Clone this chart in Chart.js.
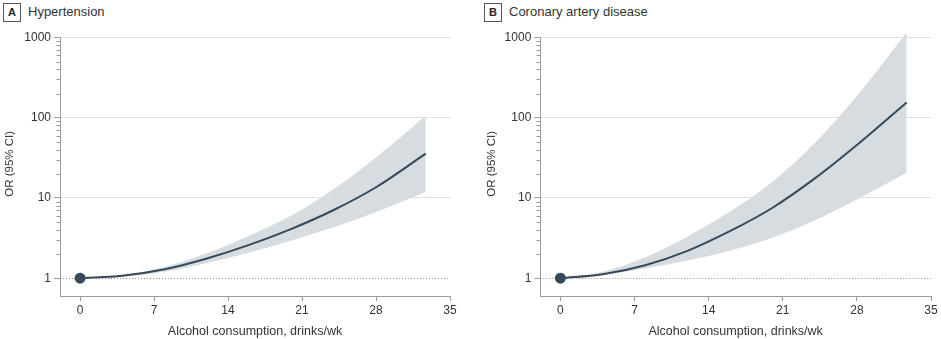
<!DOCTYPE html>
<html>
<head>
<meta charset="utf-8">
<script src="https://cdn.jsdelivr.net/npm/chart.js@4/dist/chart.umd.min.js"></script>
<style>
  body { margin: 0; background: #fff; }
  #wrap { position: relative; width: 941px; height: 339px; font-family: 'Liberation Sans', sans-serif; color: #333; }
  .panel { position: absolute; top: 0; height: 339px; }
  .tag { position: absolute; top: 3px; width: 16px; height: 17px; border: 1px solid #555; font-weight: bold; font-size: 11px; line-height: 17px; text-align: center; color: #222; }
  .name { position: absolute; top: 3px; font-size: 13px; line-height: 18px; color: #333; }
</style>
</head>
<body>
<div id="wrap">
  <div class="tag" style="left:3px">A</div>
  <div class="name" style="left:28px">Hypertension</div>
  <div class="tag" style="left:484px">B</div>
  <div class="name" style="left:509px">Coronary artery disease</div>
  <div class="panel" style="left:0;width:470px"><canvas id="htn" width="470" height="339"></canvas></div>
  <div class="panel" style="left:470px;width:471px"><canvas id="cad" width="471" height="339"></canvas></div>
</div>
<script>
// alcohol dose (drinks/wk) and odds ratios with 95% CI
const doses = [0, 4, 8, 12, 16, 20, 24, 28, 32.7]
const htnOR = [1, 1.07, 1.29, 1.76, 2.6, 4.12, 7.08, 13.6, 35.7]
const htnUpper = [1, 1.1, 1.38, 2.04, 3.39, 6.03, 12.9, 32, 106]
const htnLower = [1, 1.05, 1.2, 1.55, 2.09, 2.95, 4.3, 6.7, 11.9]
const cadOR = [1, 1.12, 1.45, 2.19, 3.85, 7.5, 17.4, 45.7, 155]
const cadUpper = [1, 1.2, 1.82, 3.31, 6.76, 15.8, 47.9, 186, 1160]
const cadLower = [1, 1.1, 1.32, 1.66, 2.2, 3.2, 5.25, 9.6, 20.6]
const xTicks = [0, 7, 14, 21, 28, 35]
const yTicks = [1, 10, 100, 1000]

const FONT = "'Liberation Sans', sans-serif"
const AXIS = "#9a9a9a"
const LINE = "#36495a"
const BAND = "#d6dce0"

const pts = (ys) => doses.map((d, i) => ({ x: d, y: ys[i] }))

// y axis line, minor log ticks and the dotted reference at OR = 1
const axisExtras = {
  id: "axisExtras",
  beforeDatasetsDraw(chart) {
    const { ctx, chartArea } = chart
    const py = chart.scales.y.getPixelForValue(1)
    ctx.save()
    ctx.strokeStyle = "#8c8c8c"
    ctx.lineWidth = 1
    ctx.setLineDash([1, 2])
    ctx.beginPath()
    ctx.moveTo(chartArea.left, Math.round(py) + 0.5)
    ctx.lineTo(chartArea.right, Math.round(py) + 0.5)
    ctx.stroke()
    ctx.restore()
  },
  afterDraw(chart) {
    const { ctx, chartArea } = chart
    const y = chart.scales.y
    const left = Math.round(chartArea.left) + 0.5
    ctx.save()
    ctx.strokeStyle = AXIS
    ctx.lineWidth = 1
    ctx.beginPath()
    ctx.moveTo(left, y.getPixelForValue(yTicks[yTicks.length - 1]))
    ctx.lineTo(left, chartArea.bottom)
    for (let k = 0; k < yTicks.length - 1; k++) {
      for (let m = 2; m <= 9; m++) {
        const p = Math.round(y.getPixelForValue(m * yTicks[k])) + 0.5
        ctx.moveTo(left - 4, p)
        ctx.lineTo(left, p)
      }
    }
    ctx.stroke()
    ctx.restore()
  },
}

function makeChart(id, mid, upper, lower, padLeft, axisWidth, padRight) {
  return new Chart(document.getElementById(id), {
    type: "line",
    data: {
      datasets: [
        // lower order draws on top
        { data: [{ x: doses[0], y: mid[0] }], order: 0, borderWidth: 0, pointRadius: 5.5, pointBackgroundColor: LINE, pointBorderWidth: 0, showLine: false },
        { data: pts(mid), order: 1, borderColor: LINE, borderWidth: 2, pointRadius: 0, fill: false, cubicInterpolationMode: "monotone" },
        { data: pts(upper), order: 2, borderWidth: 0, pointRadius: 0, backgroundColor: BAND, fill: "+1", cubicInterpolationMode: "monotone" },
        { data: pts(lower), order: 3, borderWidth: 0, pointRadius: 0, fill: false, cubicInterpolationMode: "monotone" },
      ],
    },
    options: {
      responsive: false,
      animation: false,
      events: [],
      layout: { padding: { left: padLeft, right: padRight, top: 31.7, bottom: 0 } },
      plugins: { legend: { display: false }, tooltip: { enabled: false } },
      scales: {
        x: {
          type: "linear",
          min: -1.9,
          max: 35,
          afterBuildTicks: (s) => { s.ticks = xTicks.map((v) => ({ value: v })) },
          afterFit: (s) => { s.height = 43 },
          grid: { drawOnChartArea: false, tickLength: 5, tickColor: AXIS },
          border: { color: AXIS },
          ticks: { color: "#333", font: { family: FONT, size: 12 }, padding: 2, maxRotation: 0 },
          title: { display: true, text: "Alcohol consumption, drinks/wk", color: "#333", font: { family: FONT, size: 12.5 }, padding: { top: 2, bottom: 0 } },
        },
        y: {
          type: "logarithmic",
          min: 0.615,
          max: 1180,
          afterBuildTicks: (s) => { s.ticks = yTicks.map((v) => ({ value: v })) },
          afterFit: (s) => { s.width = axisWidth },
          grid: {
            color: (c) => (c.tick && c.tick.value === 1 ? "rgba(0,0,0,0)" : "#dfdfdf"),
            tickLength: 6,
            tickColor: AXIS,
          },
          border: { display: false },
          ticks: { color: "#333", font: { family: FONT, size: 12 }, padding: 3, callback: (v) => String(v) },
          title: { display: true, text: "OR (95% CI)", color: "#333", font: { family: FONT, size: 11.5 }, padding: { top: 3, bottom: 0 } },
        },
      },
    },
    plugins: [axisExtras],
  })
}

makeChart("htn", htnOR, htnUpper, htnLower, 0, 60, 20)
makeChart("cad", cadOR, cadUpper, cadLower, 12, 58.3, 10)
</script>
</body>
</html>
